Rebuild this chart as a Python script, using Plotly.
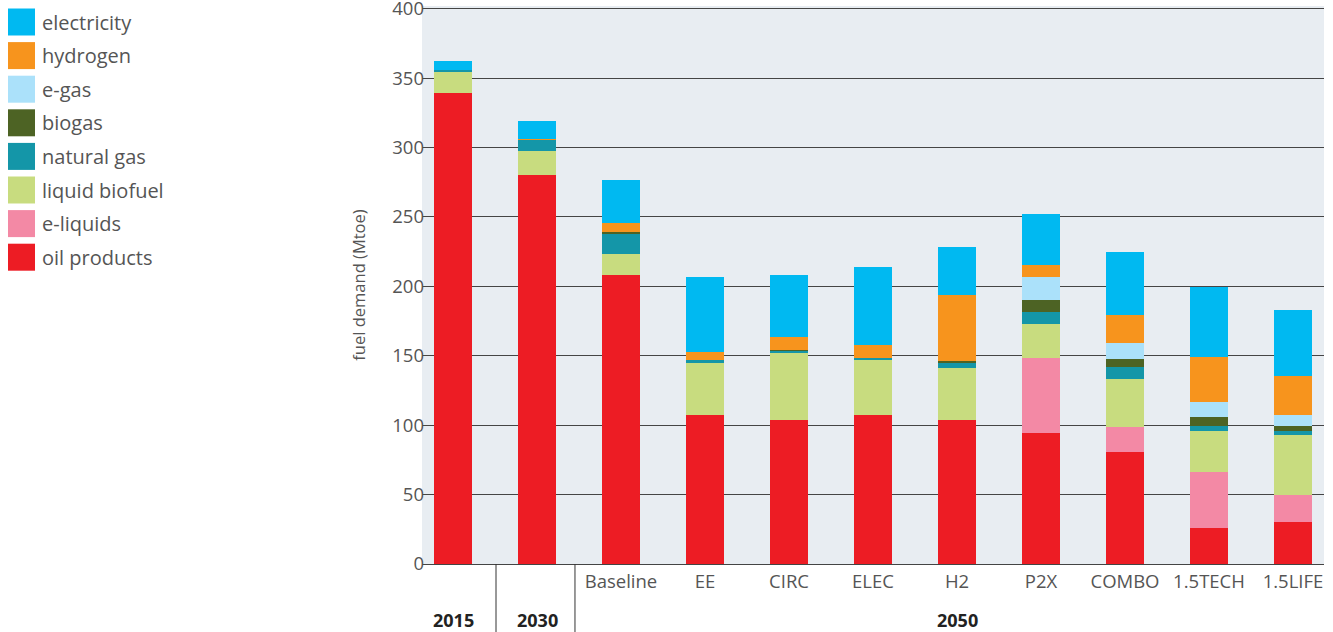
import plotly.graph_objects as go

categories = ["2015", "2030", "Baseline", "EE", "CIRC", "ELEC", "H2", "P2X", "COMBO", "1.5TECH", "1.5LIFE"]
tick_labels = ["", "", "Baseline", "EE", "CIRC", "ELEC", "H2", "P2X", "COMBO", "1.5TECH", "1.5LIFE"]
group_labels = ["2015", "2030", "2050"]
y_ticks = [0, 50, 100, 150, 200, 250, 300, 350, 400]

oil_products = [339, 280, 208, 107, 104, 107, 104, 94.5, 80.5, 26, 30]
e_liquids = [0, 0, 0, 0, 0, 0, 0, 54, 18, 40.5, 19.5]
liquid_biofuel = [15.6, 17.5, 15, 38, 48, 40, 37.5, 24.5, 34.5, 29, 43.5]
natural_gas = [1.5, 8.5, 15, 2, 1.5, 1.5, 3.5, 8.6, 8.7, 3.6, 2.9]
biogas = [0, 0, 1.5, 0, 0.7, 0, 1.5, 8.7, 5.8, 6.5, 3.6]
e_gas = [0, 0, 0, 0, 0, 0, 0, 16.5, 11.6, 10.8, 8]
hydrogen = [0, 0.5, 6.5, 6, 9.5, 9.5, 47.5, 8.7, 20, 33, 28]
electricity = [6.5, 13, 31, 53.5, 44.5, 56, 34.5, 36.8, 46, 50.5, 47.5]

series = [
    ("oil products", oil_products, "#ed1c24"),
    ("e-liquids", e_liquids, "#f389a5"),
    ("liquid biofuel", liquid_biofuel, "#c8dc7f"),
    ("natural gas", natural_gas, "#1496a8"),
    ("biogas", biogas, "#4d6324"),
    ("e-gas", e_gas, "#abe1fa"),
    ("hydrogen", hydrogen, "#f7941d"),
    ("electricity", electricity, "#00b9f1"),
]

FONT = "Open Sans"
TXT = "#555555"

fig = go.Figure()
xs = list(range(len(categories)))
for name, vals, col in series:
    fig.add_trace(go.Bar(
        x=xs, y=vals, name=name, marker=dict(color=col, line=dict(width=0)),
        width=0.452, showlegend=False,
        hovertext=categories,
    ))

W, H = 1333, 632
L, R, T, B = 422, 9, 6, 68
pw, ph = W - L - R, H - T - B

def px_x(p):
    return (p - L) / pw

def px_y(p):
    return (H - B - p) / ph

shapes = []
annotations = []
# custom legend (top to bottom)
for i, (name, vals, col) in enumerate(reversed(series)):
    cy = 22 + i * 33.6
    shapes.append(dict(type="rect", xref="paper", yref="paper",
                       x0=px_x(8), x1=px_x(35), y0=px_y(cy - 13.5), y1=px_y(cy + 13.5),
                       fillcolor=col, line=dict(width=0)))
    annotations.append(dict(xref="paper", yref="paper", x=px_x(40), y=px_y(cy),
                            text=name, showarrow=False, xanchor="left", yanchor="middle",
                            font=dict(family=FONT, size=20, color=TXT)))

# group separators
for xv in [0.512, 1.452]:
    shapes.append(dict(type="line", xref="x", yref="paper", x0=xv, x1=xv,
                       y0=0, y1=px_y(H), line=dict(color="#333333", width=1)))

# group labels
for lbl, xv in zip(group_labels, [0, 1, 6]):
    annotations.append(dict(xref="x", yref="paper", x=xv, y=px_y(634), text="<b>" + lbl + "</b>",
                            showarrow=False, xanchor="center", yanchor="bottom",
                            font=dict(family=FONT, size=18, color="#222222")))

fig.update_layout(
    width=W, height=H,
    margin=dict(l=L, r=R, t=T, b=B, autoexpand=False),
    barmode="stack",
    paper_bgcolor="white",
    plot_bgcolor="#e8edf2",
    font=dict(family=FONT, color=TXT),
    shapes=shapes,
    annotations=annotations,
    xaxis=dict(
        range=[-0.369, 10.369], tickmode="array", tickvals=xs, ticktext=tick_labels,
        showgrid=False, zeroline=False, showline=True, linecolor="#444444", linewidth=1.2,
        ticks="", tickfont=dict(family=FONT, size=18.5, color=TXT), ticklabelstandoff=1,
        automargin=False,
    ),
    yaxis=dict(
        range=[0, 402], tickmode="array", tickvals=y_ticks,
        showgrid=True, gridcolor="#454545", gridwidth=1.2, zeroline=False,
        ticks="", tickfont=dict(family=FONT, size=18.5, color=TXT), ticklabelstandoff=-3,
        ticklabeloverflow="allow", automargin=False,
        title=dict(text="fuel demand (Mtoe)", font=dict(family=FONT, size=16.5, color=TXT), standoff=22),
    ),
)

fig.write_html("out.html", post_script="document.body.style.margin='0';",
               config={"displayModeBar": False})
